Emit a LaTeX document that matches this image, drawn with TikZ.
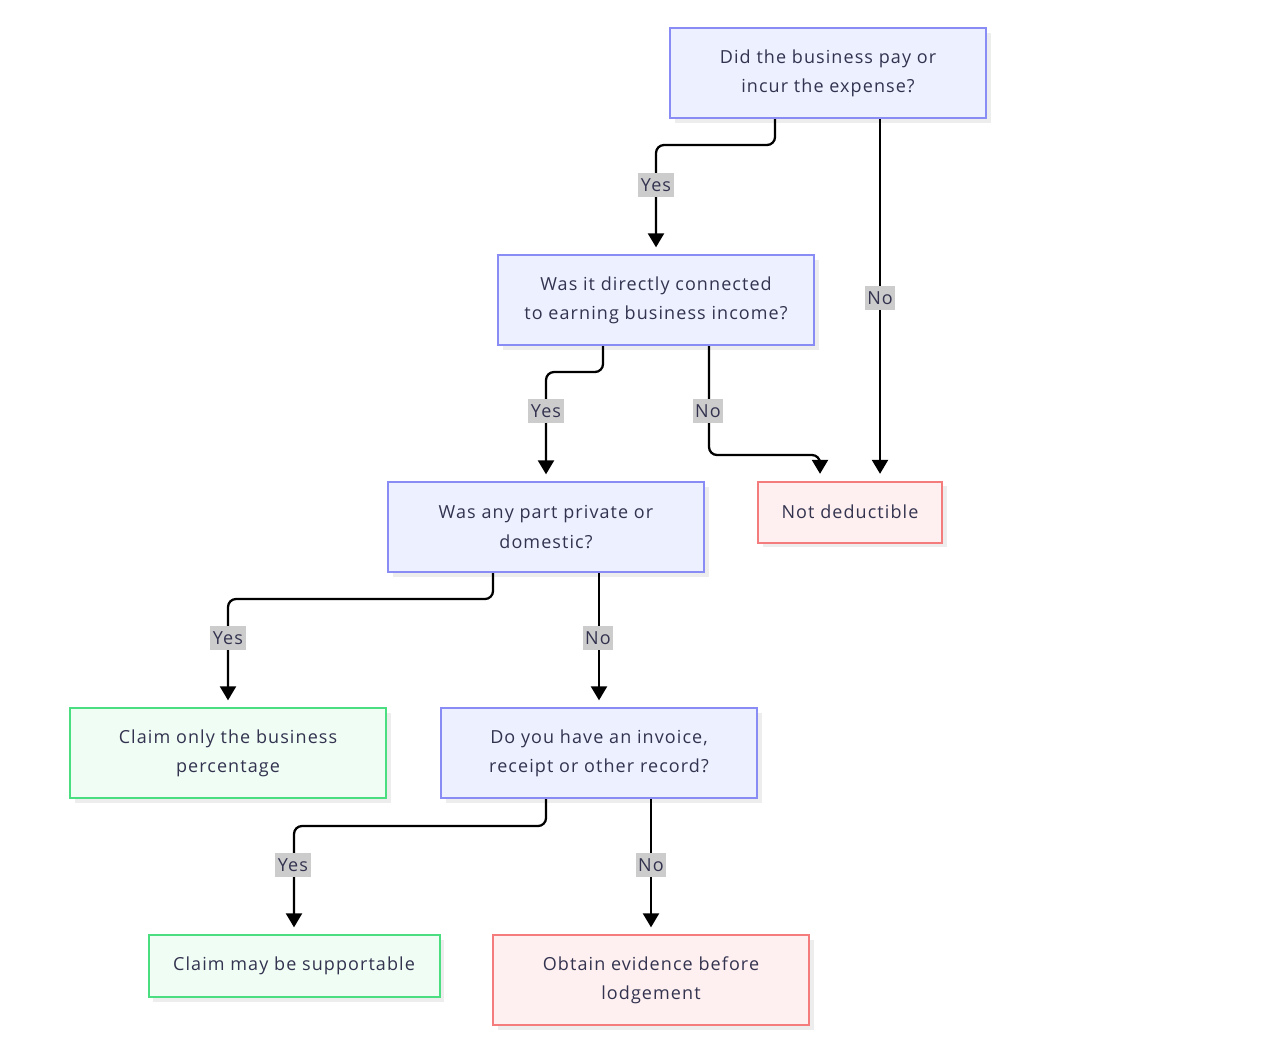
\documentclass[tikz,border=0pt]{standalone}
\usepackage{fontspec}
\setmainfont[LetterSpace=6]{Open Sans}
\usepackage{tikz}
\usetikzlibrary{positioning, calc, arrows.meta, shadows}

\definecolor{txtc}{HTML}{333350}
\definecolor{qfill}{HTML}{ECF0FF}
\definecolor{qdraw}{HTML}{8A8CF5}
\definecolor{okfill}{HTML}{F0FDF4}
\definecolor{okdraw}{HTML}{4ADE80}
\definecolor{badfill}{HTML}{FEF0F0}
\definecolor{baddraw}{HTML}{F47C7C}
\definecolor{lblfill}{HTML}{CCCCCC}

\begin{document}
\begin{tikzpicture}[x=0.75pt, y=-0.75pt, font=\fontsize{13.5pt}{22pt}\selectfont, text=txtc,
					box/.style={draw, line width=1.5pt, align=center, minimum width=237pt, minimum height=67.5pt,
						drop shadow={shadow xshift=3.5pt, shadow yshift=-3.5pt, fill=black!7, opacity=1}},
					question/.style={box, fill=qfill, draw=qdraw},
					good/.style={box, fill=okfill, draw=okdraw},
					bad/.style={box, fill=badfill, draw=baddraw},
					lbl/.style={fill=lblfill, inner xsep=2pt, inner ysep=4pt, text=txtc},
					flow/.style={-{Triangle[length=10.5pt, width=12pt]}, line width=1.7pt, rounded corners=6pt, shorten >=5pt} ]
	\useasboundingbox (0,0) rectangle (1288,1060);
	
	\node[question] (q1) at (828,73)  {Did the business pay or\\incur the expense?};
	\node[question] (q2) at (656,300) {Was it directly connected\\to earning business income?};
	\node[question] (q3) at (546,527) {Was any part private or\\domestic?};
	\node[bad, minimum width=138pt, minimum height=45.75pt] (nd) at (850,512) {Not deductible};
	\node[good] (c1) at (228,753) {Claim only the business\\percentage};
	\node[question] (q4) at (599,753) {Do you have an invoice,\\receipt or other record?};
	\node[good, minimum width=218.25pt, minimum height=46.5pt] (c2) at (294,966) {Claim may be supportable};
	\node[bad] (oe) at (651,980) {Obtain evidence before\\lodgement};
	
	%Ligações
	\draw[flow] ($(q1.south)+(-53,0)$) -- ++(0,26) -| (q2.north);
	\draw[flow] ($(q1.south)+(52,0)$) -- ($(nd.north)+(30,0)$);
	\draw[flow] ($(q2.south)+(-53,0)$) -- ++(0,26) -| (q3.north);
	\draw[flow] ($(q2.south)+(53,0)$) -- ++(0,109) -| ($(nd.north)+(-30,0)$);
	\draw[flow] ($(q3.south)+(-53,0)$) -- ++(0,26) -| (c1.north);
	\draw[flow] ($(q3.south)+(53,0)$) -- (q4.north);
	\draw[flow] ($(q4.south)+(-53,0)$) -- ++(0,27) -| (c2.north);
	\draw[flow] ($(q4.south)+(52,0)$) -- (oe.north);
	
	%Rótulos
	\node[lbl] (y1) at (656,185) {Yes};
	\node[lbl] (n1) at (880,298) {No};
	\node[lbl] (y2) at (546,411) {Yes};
	\node[lbl] (n2) at (708,411) {No};
	\node[lbl] (y3) at (228,638) {Yes};
	\node[lbl] (n3) at (598,638) {No};
	\node[lbl] (y4) at (293,865) {Yes};
	\node[lbl] (n4) at (651,865) {No};
\end{tikzpicture}
\end{document}
